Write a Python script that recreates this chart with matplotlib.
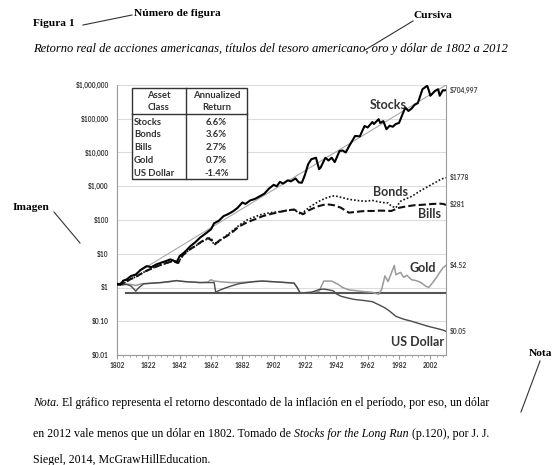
import matplotlib
matplotlib.use("Agg")
import matplotlib.pyplot as plt
import numpy as np
from matplotlib.lines import Line2D
from matplotlib.patches import Rectangle
from matplotlib.ticker import FixedLocator, NullFormatter

# ---- data ----
stocks_years = [1802, 1804, 1806, 1808, 1811, 1814, 1817, 1821, 1824, 1827, 1830, 1833, 1836, 1838,
                1840, 1842, 1845, 1849, 1852, 1855, 1858, 1862, 1864, 1867, 1870, 1873, 1876, 1879,
                1882, 1884, 1887, 1890, 1893, 1896, 1899, 1902, 1904, 1906, 1908, 1911, 1913, 1916,
                1918, 1920, 1922, 1924, 1926, 1929, 1931, 1932, 1935, 1937, 1939, 1941, 1944, 1946,
                1948, 1950, 1954, 1957, 1960, 1962, 1965, 1966, 1969, 1970, 1972, 1974, 1976, 1978,
                1980, 1982, 1986, 1988, 1990, 1992, 1994, 1997, 2000, 2001, 2002, 2005, 2007, 2008,
                2010, 2011, 2012]
stocks_values = [1.3, 1.2, 1.6, 1.7, 2.2, 2.4, 3.3, 4.3, 4.0, 4.8, 5.4, 6.0, 6.8, 6.3,
                 5.6, 8.5, 11, 17, 22, 30, 38, 53, 80, 95, 130, 150, 180, 230,
                 330, 300, 380, 420, 500, 600, 850, 1100, 1000, 1350, 1200, 1500, 1400, 1700,
                 1300, 1270, 2200, 4500, 6300, 7000, 3200, 3600, 7000, 5800, 7000, 5200, 11000, 11500,
                 10000, 15000, 31000, 30000, 61000, 55000, 80000, 70000, 97000, 75000, 85000, 49000, 62000, 58000,
                 70000, 75000, 215000, 170000, 200000, 260000, 290000, 750000, 950000, 700000, 480000, 670000, 750000, 480000,
                 700000, 690000, 704997]

bonds_years = [1802, 1806, 1810, 1815, 1820, 1825, 1830, 1835, 1838, 1841, 1844, 1848, 1852, 1856,
               1860, 1862, 1864, 1866, 1870, 1875, 1880, 1885, 1890, 1895, 1900, 1905, 1910, 1915,
               1918, 1920, 1922, 1926, 1931, 1935, 1939, 1941, 1945, 1950, 1955, 1960, 1965, 1971,
               1975, 1977, 1980, 1983, 1986, 1989, 1992, 1996, 2000, 2003, 2006, 2009, 2012]
bonds_values = [1.2, 1.3, 1.7, 2.2, 3.0, 3.8, 4.6, 5.5, 6.2, 5.5, 9, 13, 17, 22,
                28, 30, 18, 21, 30, 45, 70, 100, 125, 150, 165, 175, 190, 200,
                165, 140, 190, 260, 360, 440, 510, 520, 470, 410, 380, 360, 380, 330,
                320, 260, 230, 360, 420, 470, 570, 750, 950, 1140, 1350, 1650, 1778]

bills_years = [1802, 1806, 1810, 1815, 1820, 1825, 1830, 1835, 1838, 1841, 1844, 1848, 1852, 1856,
               1860, 1863, 1865, 1868, 1872, 1876, 1880, 1885, 1890, 1895, 1900, 1905, 1910, 1915,
               1918, 1921, 1924, 1928, 1931, 1935, 1938, 1941, 1945, 1950, 1955, 1960, 1965, 1970,
               1977, 1982, 1986, 1992, 1996, 2000, 2004, 2008, 2010, 2012]
bills_values = [1.2, 1.35, 1.7, 2.2, 3.0, 3.8, 4.7, 5.6, 6.0, 5.3, 9, 13, 17, 23,
                29, 24, 20, 26, 33, 45, 65, 85, 105, 130, 150, 170, 190, 205,
                170, 150, 190, 230, 260, 290, 285, 270, 230, 165, 175, 185, 185, 190,
                185, 230, 250, 275, 280, 290, 300, 305, 300, 281]

gold_years = [1802, 1805, 1810, 1814, 1818, 1825, 1830, 1835, 1840, 1845, 1850, 1855, 1860, 1862,
              1864, 1870, 1875, 1880, 1885, 1890, 1895, 1900, 1905, 1910, 1915, 1917, 1919, 1922,
              1926, 1931, 1934, 1939, 1943, 1946, 1950, 1955, 1960, 1965, 1969, 1971, 1973, 1975,
              1979, 1980, 1983, 1985, 1987, 1990, 1993, 1996, 1999, 2001, 2004, 2006, 2008, 2010,
              2012]
gold_values = [1.3, 1.2, 1.25, 1.15, 1.3, 1.35, 1.4, 1.45, 1.6, 1.5, 1.45, 1.4, 1.45, 1.7,
               1.55, 1.45, 1.4, 1.4, 1.45, 1.5, 1.55, 1.5, 1.45, 1.4, 1.35, 1.0, 0.68, 0.7,
               0.72, 0.78, 1.55, 1.55, 1.25, 1.0, 0.85, 0.8, 0.75, 0.72, 0.63, 0.9, 2.2, 1.5,
               4.5, 2.4, 2.8, 2.0, 2.3, 1.7, 1.6, 1.4, 1.1, 1.0, 1.5, 2.0, 2.8, 3.8,
               4.52]

dollar_years = [1802, 1805, 1808, 1811, 1814, 1816, 1819, 1825, 1830, 1835, 1840, 1842, 1845, 1850,
                1855, 1860, 1864, 1865, 1868, 1872, 1876, 1880, 1885, 1890, 1895, 1900, 1905, 1910,
                1915, 1917, 1919, 1922, 1926, 1931, 1934, 1937, 1940, 1942, 1945, 1950, 1954, 1960,
                1965, 1969, 1973, 1976, 1980, 1985, 1990, 1995, 2000, 2005, 2010, 2012]
dollar_values = [1.3, 1.2, 1.25, 1.1, 0.78, 1.0, 1.28, 1.35, 1.4, 1.5, 1.6, 1.55, 1.5, 1.45,
                 1.4, 1.4, 1.4, 0.73, 0.85, 1.0, 1.15, 1.3, 1.4, 1.5, 1.55, 1.5, 1.45, 1.4,
                 1.35, 1.0, 0.68, 0.7, 0.72, 0.87, 0.9, 0.85, 0.8, 0.65, 0.55, 0.48, 0.44, 0.41,
                 0.38, 0.31, 0.25, 0.2, 0.14, 0.115, 0.1, 0.085, 0.072, 0.063, 0.055, 0.05]

trend_years = [1802, 2012]
trend_values = [1.2, 1.0e6]
baseline_years = [1808, 2012]
baseline_values = [0.7, 0.7]

y_ticks = [0.01, 0.1, 1, 10, 100, 1000, 1e4, 1e5, 1e6]
y_tick_labels = ["$0.01", "$0.10", "$1", "$10", "$100", "$1,000", "$10,000", "$100,000", "$1,000,000"]
x_ticks = list(range(1802, 2003, 20))

asset_classes = ["Stocks", "Bonds", "Bills", "Gold", "US Dollar"]
annualized_returns = ["6.6%", "3.6%", "2.7%", "0.7%", "-1.4%"]

W, H = 558, 465
SERIF = "Liberation Serif"
SANS = "Lato"


def fx(px):
    return px / W


def fy(py):
    return 1 - py / H


fig = plt.figure(figsize=(W / 100, H / 100), dpi=100)
fig.patch.set_facecolor("white")
ax = fig.add_axes([fx(117), fy(355), (446 - 117) / W, (355 - 85) / H])

ax.plot(trend_years, trend_values, color="#a8a8a8", lw=0.8, zorder=2)
ax.plot(baseline_years, baseline_values, color="#555555", lw=1.5, zorder=2)
ax.plot(gold_years, gold_values, color="#9a9a9a", lw=1.1, zorder=3)
ax.plot(dollar_years, dollar_values, color="#4a4a4a", lw=1.0, zorder=3)
ax.plot(bonds_years, bonds_values, color="#111111", lw=1.2, ls=(0, (1, 1.2)), zorder=4)
ax.plot(bills_years, bills_values, color="#111111", lw=1.5, ls=(0, (3.5, 1.5)), zorder=4)
ax.plot(stocks_years, stocks_values, color="#000000", lw=1.5, zorder=5)

ax.set_yscale("log")
ax.set_ylim(0.01, 1e6)
ax.set_xlim(1802, 2012)
ax.yaxis.set_major_locator(FixedLocator(y_ticks))
ax.yaxis.set_minor_locator(FixedLocator([]))
ax.set_yticklabels(y_tick_labels)
ax.set_xticks(x_ticks)
ax.xaxis.set_minor_locator(FixedLocator(np.arange(1802, 2013, 4)))
ax.xaxis.set_minor_formatter(NullFormatter())
ax.grid(axis="y", color="#dcdcdc", lw=0.8)
ax.set_axisbelow(True)
for lab in ax.get_xticklabels() + ax.get_yticklabels():
    lab.set_fontfamily(SANS)
    lab.set_fontweight("bold")
    lab.set_color("#333333")
ax.tick_params(axis="y", length=0, labelsize=4.8, pad=6)
ax.tick_params(axis="x", which="major", length=3, color="#999999", labelsize=4.8, pad=2)
ax.tick_params(axis="x", which="minor", length=1.5, color="#999999")
ax.spines["top"].set_visible(False)
for s in ("left", "bottom", "right"):
    ax.spines[s].set_color("#999999")
    ax.spines[s].set_linewidth(0.8)

# end-value labels
end_series = [(stocks_values[-1], f"${stocks_values[-1]:,.0f}"),
              (bonds_values[-1], f"${bonds_values[-1]:.0f}"),
              (bills_values[-1], f"${bills_values[-1]:.0f}"),
              (gold_values[-1], f"${gold_values[-1]:.2f}"),
              (dollar_values[-1], f"${dollar_values[-1]:.2f}")]
for val, txt in end_series:
    ax.annotate(txt, xy=(2012, val), xytext=(3, 0), textcoords="offset points",
                va="center", ha="left", fontsize=4.8, fontfamily=SANS, fontweight="bold",
                color="#444444", annotation_clip=False)

# series names
name_pos = [("Stocks", 388, 105), ("Bonds", 391, 192), ("Bills", 430, 214),
            ("Gold", 423, 268), ("US Dollar", 418, 342)]
for name, px, py in name_pos:
    fig.text(fx(px), fy(py), name, ha="center", va="center", fontsize=9,
             fontfamily=SANS, fontweight="bold", color="#333333")

# asset table
tl, tr, tt, tb = 132, 247, 88, 179
fig.add_artist(Rectangle((fx(tl), fy(tb)), (tr - tl) / W, (tb - tt) / H, transform=fig.transFigure,
                         facecolor="white", edgecolor="#333333", lw=1.0, zorder=6))
fig.add_artist(Line2D([fx(186), fx(186)], [fy(tt), fy(tb)], color="#333333", lw=1.0, zorder=7))
fig.add_artist(Line2D([fx(tl), fx(tr)], [fy(114), fy(114)], color="#333333", lw=1.0, zorder=7))
tkw = dict(fontsize=6.8, fontfamily=SANS, fontweight="bold", color="#333333", va="center", zorder=8)
fig.text(fx(159), fy(95), "Asset", ha="center", **tkw)
fig.text(fx(159), fy(107.5), "Class", ha="center", **tkw)
fig.text(fx(216.5), fy(95), "Annualized", ha="center", **tkw)
fig.text(fx(216.5), fy(107.5), "Return", ha="center", **tkw)
for i, (cls, ret) in enumerate(zip(asset_classes, annualized_returns)):
    py = 122 + i * 12.8
    fig.text(fx(134), fy(py), cls, ha="left", **tkw)
    fig.text(fx(216.5), fy(py), ret, ha="center", **tkw)

# document annotations
lab_kw = dict(fontfamily=SERIF, fontweight="bold", fontsize=8.2, va="center", color="black")
fig.text(fx(33), fy(24), "Figura 1", ha="left", **lab_kw)
fig.text(fx(134), fy(14), "Número de figura", ha="left", **lab_kw)
fig.text(fx(414), fy(16), "Cursiva", ha="left", **lab_kw)
fig.text(fx(13), fy(207), "Imagen", ha="left", **lab_kw)
fig.text(fx(529), fy(353), "Nota", ha="left", **lab_kw)
for (x0, y0), (x1, y1) in [((83, 25), (132, 15)), ((365, 50), (413, 21)),
                           ((54, 212), (80, 243)), ((540, 361), (521, 412))]:
    fig.add_artist(Line2D([fx(x0), fx(x1)], [fy(y0), fy(y1)], color="#333333", lw=0.8))

fig.text(fx(33), fy(49), "Retorno real de acciones americanas, títulos del tesoro americano, oro y dólar de 1802 a 2012",
         ha="left", va="center", fontfamily=SERIF, fontstyle="italic", fontsize=9.0)

renderer = fig.canvas.get_renderer()


def rich_line(parts, x_px, y_px, size=8.55):
    x = fx(x_px)
    for txt, style in parts:
        t = fig.text(x, fy(y_px), txt, ha="left", va="baseline", fontfamily=SERIF,
                     fontstyle=style, fontsize=size)
        bb = t.get_window_extent(renderer=renderer)
        x += bb.width / fig.bbox.width


rich_line([("Nota.", "italic"),
           (" El gráfico representa el retorno descontado de la inflación en el período, por eso, un dólar", "normal")],
          33, 406)
rich_line([("en 2012 vale menos que un dólar en 1802. Tomado de ", "normal"),
           ("Stocks for the Long Run", "italic"),
           (" (p.120), por J. J.", "normal")], 33, 437)
rich_line([("Siegel, 2014, McGrawHillEducation.", "normal")], 33, 462.5)

fig.savefig("out.png", dpi=100)
